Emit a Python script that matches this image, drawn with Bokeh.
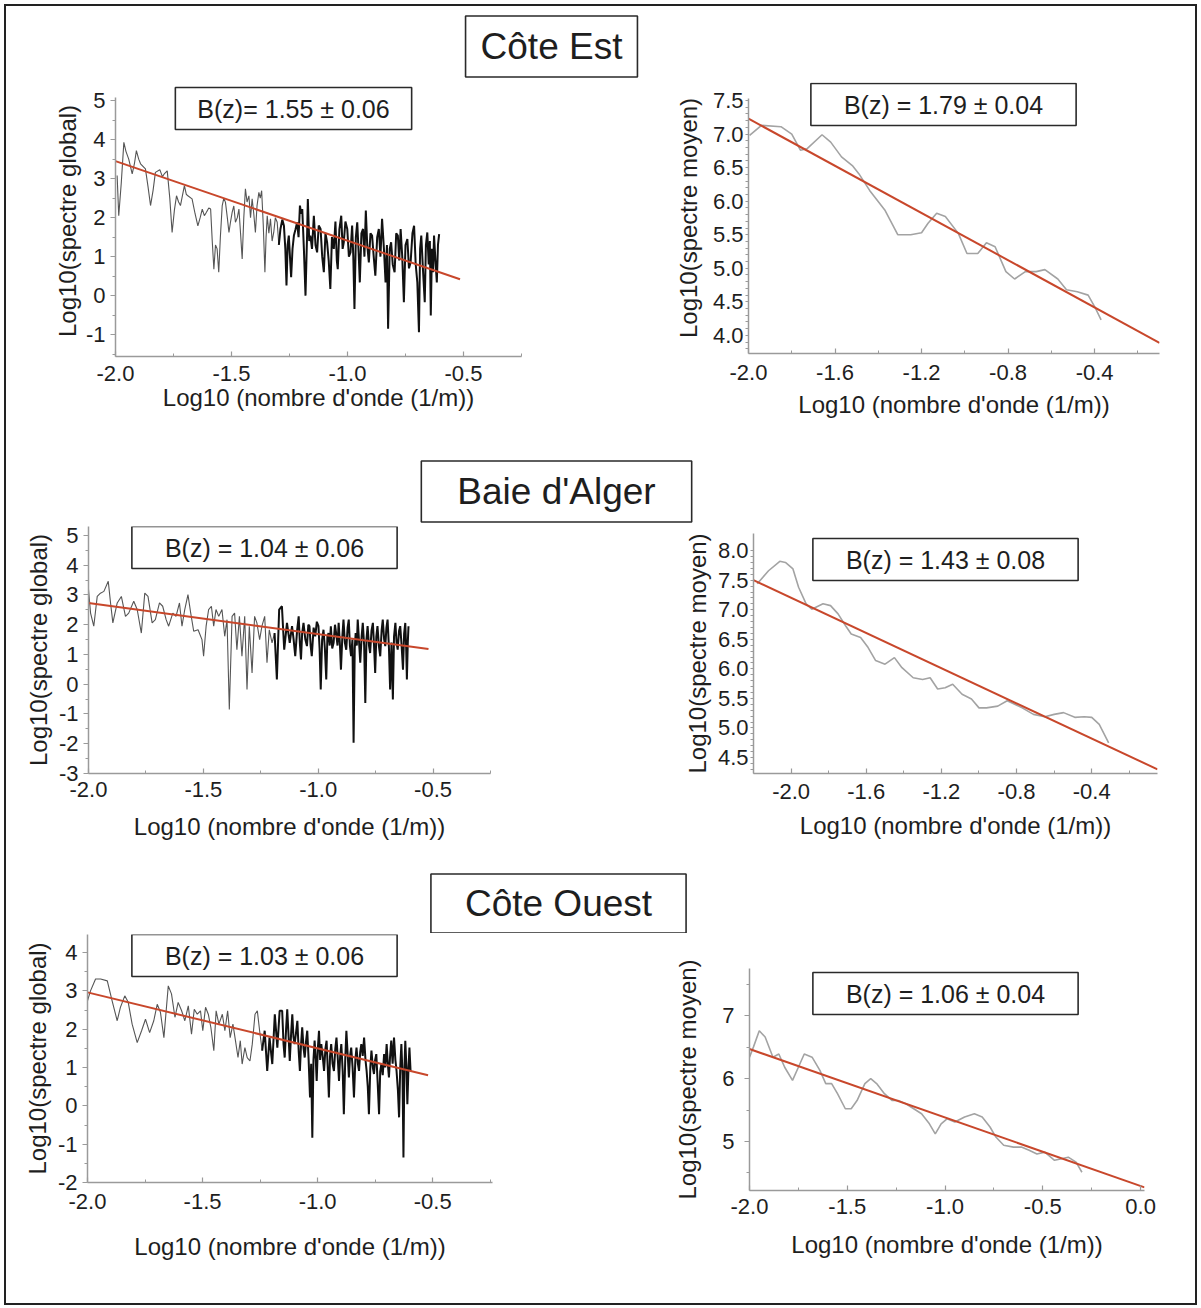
from bokeh.plotting import figure
from bokeh.models import Range1d, FixedTicker, PrintfTickFormatter, Label
from bokeh.layouts import column, row
from bokeh.embed import file_html
from bokeh.resources import INLINE

FONT = "Liberation Sans"

# ------------------------------------------------------------------ texts
titles = ["Côte Est", "Baie d'Alger", "Côte Ouest"]
b_texts = ["B(z)= 1.55 ± 0.06", "B(z) = 1.79 ± 0.04",
           "B(z) = 1.04 ± 0.06", "B(z) = 1.43 ± 0.08",
           "B(z) = 1.03 ± 0.06", "B(z) = 1.06 ± 0.04"]
x_title = "Log10 (nombre d'onde (1/m))"
y_title_global = "Log10(spectre global)"
y_title_moyen = "Log10(spectre moyen)"

# ------------------------------------------------------------------ ticks
ticks_x_half = [-2.0, -1.5, -1.0, -0.5]
minor_x_half = [-1.75, -1.25, -0.75, -0.25]
ticks_x_04 = [-2.0, -1.6, -1.2, -0.8, -0.4]
minor_x_04 = [-2.2, -1.8, -1.4, -1.0, -0.6, -0.2]
ticks_x_p6 = [-2.0, -1.5, -1.0, -0.5, 0.0]
minor_x_p6 = [-1.75, -1.25, -0.75, -0.25]
ticks_y_p1 = [-1, 0, 1, 2, 3, 4, 5]
minor_y_p1 = [-1.5, -0.5, 0.5, 1.5, 2.5, 3.5, 4.5]
ticks_y_p2 = [4.0, 4.5, 5.0, 5.5, 6.0, 6.5, 7.0, 7.5]
minor_y_p2 = [3.8, 3.9, 4.1, 4.2, 4.3, 4.4, 4.6, 4.7, 4.8, 4.9, 5.1, 5.2, 5.3, 5.4,
              5.6, 5.7, 5.8, 5.9, 6.1, 6.2, 6.3, 6.4, 6.6, 6.7, 6.8, 6.9, 7.1, 7.2, 7.3, 7.4]
ticks_y_p3 = [-3, -2, -1, 0, 1, 2, 3, 4, 5]
minor_y_p3 = [-2.5, -1.5, -0.5, 0.5, 1.5, 2.5, 3.5, 4.5]
ticks_y_p4 = [4.5, 5.0, 5.5, 6.0, 6.5, 7.0, 7.5, 8.0]
minor_y_p4 = [4.3, 4.4, 4.6, 4.7, 4.8, 4.9, 5.1, 5.2, 5.3, 5.4, 5.6, 5.7, 5.8, 5.9,
              6.1, 6.2, 6.3, 6.4, 6.6, 6.7, 6.8, 6.9, 7.1, 7.2, 7.3, 7.4, 7.6, 7.7, 7.8, 7.9]
ticks_y_p5 = [-2, -1, 0, 1, 2, 3, 4]
minor_y_p5 = [-1.5, -0.5, 0.5, 1.5, 2.5, 3.5]
ticks_y_p6 = [5, 6, 7]
minor_y_p6 = [4.5, 5.5, 6.5, 7.5]

# ------------------------------------------------------------------ data
# Côte Est - spectre global
est_global = [
    (-1.993, 3.08), (-1.986, 2.05), (-1.975, 2.90), (-1.964, 3.93), (-1.955, 3.70), (-1.943, 3.50),
    (-1.928, 3.12), (-1.918, 3.40), (-1.910, 3.72), (-1.900, 3.50), (-1.892, 3.38), (-1.871, 3.25),
    (-1.860, 2.80), (-1.849, 2.31), (-1.838, 2.70), (-1.828, 3.16), (-1.809, 3.23), (-1.798, 3.05),
    (-1.790, 3.12), (-1.777, 3.20), (-1.766, 2.50), (-1.756, 1.62), (-1.746, 2.20), (-1.737, 2.56),
    (-1.728, 2.40), (-1.720, 2.31), (-1.703, 2.82), (-1.695, 2.60), (-1.688, 2.56), (-1.670, 2.48),
    (-1.657, 2.10), (-1.645, 1.79), (-1.635, 2.00), (-1.626, 2.22), (-1.617, 2.05), (-1.608, 2.14),
    (-1.598, 2.25), (-1.590, 2.22), (-1.583, 1.40), (-1.576, 0.68), (-1.569, 1.30), (-1.562, 1.20),
    (-1.555, 0.60), (-1.548, 1.50), (-1.540, 2.31), (-1.533, 2.50), (-1.526, 2.39), (-1.518, 2.00),
    (-1.511, 1.62), (-1.504, 1.90), (-1.497, 2.14), (-1.490, 2.30), (-1.483, 1.88), (-1.475, 2.00),
    (-1.468, 2.22), (-1.461, 1.60), (-1.454, 0.94), (-1.447, 2.00), (-1.440, 2.74), (-1.433, 2.40),
    (-1.425, 2.56), (-1.418, 2.00), (-1.411, 2.48), (-1.404, 2.10), (-1.397, 1.62), (-1.390, 2.30),
    (-1.382, 2.65), (-1.376, 2.50), (-1.370, 2.69), (-1.363, 1.80), (-1.356, 0.60), (-1.351, 1.50),
    (-1.346, 2.05), (-1.339, 1.60), (-1.332, 1.97), (-1.325, 1.40), (-1.318, 1.62), (-1.311, 2.00),
    (-1.303, 1.88), (-1.296, 1.30), (-1.289, 1.71), (-1.281, 1.95), (-1.274, 1.79), (-1.268, 1.20),
    (-1.263, 0.26), (-1.258, 1.30), (-1.253, 1.54), (-1.248, 1.00), (-1.243, 0.47), (-1.237, 1.20),
    (-1.231, 1.54), (-1.224, 1.70), (-1.217, 1.88), (-1.211, 1.50), (-1.205, 2.31), (-1.200, 2.10),
    (-1.195, 2.22), (-1.188, 1.20), (-1.181, 0.00), (-1.174, 1.60), (-1.171, 2.48), (-1.165, 1.40),
    (-1.160, 1.54), (-1.153, 1.20), (-1.145, 2.05), (-1.138, 1.30), (-1.131, 1.11), (-1.124, 1.80),
    (-1.116, 1.71), (-1.109, 1.00), (-1.102, 0.60), (-1.095, 1.60), (-1.088, 1.37), (-1.081, 0.90),
    (-1.074, 0.17), (-1.067, 1.50), (-1.059, 1.20), (-1.052, 1.90), (-1.046, 0.90), (-1.042, 0.68),
    (-1.035, 1.70), (-1.027, 2.05), (-1.021, 1.20), (-1.016, 1.37), (-1.009, 1.90), (-1.001, 1.71),
    (-0.994, 1.00), (-0.987, 1.11), (-0.980, 1.80), (-0.975, 1.00), (-0.970, -0.34), (-0.964, 1.50),
    (-0.958, 1.88), (-0.952, 1.10), (-0.947, 0.34), (-0.940, 1.60), (-0.933, 1.71), (-0.927, 1.00),
    (-0.921, 2.18), (-0.915, 1.30), (-0.908, 0.85), (-0.901, 1.60), (-0.894, 1.54), (-0.887, 1.00),
    (-0.880, 0.51), (-0.872, 1.50), (-0.865, 1.71), (-0.858, 1.00), (-0.851, 1.97), (-0.843, 1.20),
    (-0.836, 0.34), (-0.830, 1.30), (-0.825, -0.85), (-0.818, 1.20), (-0.812, 1.37), (-0.805, 0.80),
    (-0.797, 0.60), (-0.790, 1.60), (-0.783, 1.54), (-0.777, 0.90), (-0.771, 1.71), (-0.764, 1.00),
    (-0.757, -0.17), (-0.750, 1.30), (-0.742, 1.45), (-0.735, 0.70), (-0.728, 0.85), (-0.720, 1.60),
    (-0.713, 1.79), (-0.706, 0.80), (-0.699, 0.34), (-0.692, -0.94), (-0.687, 1.20), (-0.682, 1.54),
    (-0.675, 0.70), (-0.667, -0.17), (-0.662, 1.30), (-0.656, 1.62), (-0.650, 0.80), (-0.645, 1.40),
    (-0.641, -0.51), (-0.636, 1.20), (-0.631, 0.60), (-0.627, 1.54), (-0.621, 0.90), (-0.615, 0.34),
    (-0.610, 1.30), (-0.605, 1.58),
]
est_fit_x = [-2.0, -0.515]
est_fit_y = [3.45, 0.42]

# Côte Est - spectre moyen
est_moyen = [
    (-1.995, 6.98), (-1.94, 7.13), (-1.85, 7.11), (-1.80, 7.00), (-1.76, 6.76), (-1.73, 6.78),
    (-1.66, 6.99), (-1.62, 6.88), (-1.57, 6.66), (-1.52, 6.53), (-1.49, 6.41), (-1.44, 6.16),
    (-1.37, 5.87), (-1.31, 5.50), (-1.25, 5.50), (-1.20, 5.53), (-1.17, 5.67), (-1.13, 5.82),
    (-1.09, 5.77), (-1.03, 5.52), (-0.99, 5.22), (-0.94, 5.22), (-0.90, 5.38), (-0.86, 5.32),
    (-0.81, 4.95), (-0.77, 4.84), (-0.72, 4.95), (-0.67, 4.95), (-0.63, 4.98), (-0.57, 4.84),
    (-0.53, 4.68), (-0.48, 4.65), (-0.43, 4.60), (-0.40, 4.43), (-0.37, 4.23),
]
est_mfit_x = [-2.0, -0.1]
est_mfit_y = [7.23, 3.89]

# Baie d'Alger - spectre global
alger_global = [
    (-2.000, 3.18), (-1.991, 2.39), (-1.977, 1.95), (-1.962, 2.95), (-1.948, 3.06), (-1.933, 3.12),
    (-1.914, 3.46), (-1.904, 2.73), (-1.894, 2.06), (-1.875, 2.73), (-1.857, 2.95), (-1.839, 2.28),
    (-1.825, 2.39), (-1.803, 2.79), (-1.788, 2.51), (-1.770, 1.72), (-1.755, 3.06), (-1.741, 2.95),
    (-1.723, 2.06), (-1.709, 2.17), (-1.691, 2.73), (-1.677, 2.62), (-1.662, 2.17), (-1.651, 1.95),
    (-1.633, 2.39), (-1.619, 2.28), (-1.604, 2.73), (-1.593, 1.95), (-1.581, 2.51), (-1.567, 3.01),
    (-1.555, 2.39), (-1.542, 1.78), (-1.523, 1.83), (-1.506, 1.50), (-1.499, 0.94), (-1.488, 1.95),
    (-1.477, 2.51), (-1.465, 2.62), (-1.455, 1.95), (-1.445, 2.51), (-1.433, 2.28), (-1.419, 2.51),
    (-1.407, 1.61), (-1.397, 2.17), (-1.387, -0.85), (-1.375, 2.28), (-1.364, 2.39), (-1.354, 1.16),
    (-1.343, 2.28), (-1.332, 0.94), (-1.320, 2.28), (-1.310, -0.18), (-1.300, 1.95), (-1.288, 0.38),
    (-1.277, 2.28), (-1.267, 2.06), (-1.255, 1.50), (-1.245, 1.95), (-1.233, 2.28), (-1.223, 0.72),
    (-1.213, 1.83), (-1.201, 1.39), (-1.190, 1.72), (-1.180, 0.16), (-1.170, 2.51), (-1.158, 2.62),
    (-1.148, 1.16), (-1.136, 2.06), (-1.124, 1.39), (-1.114, 1.95), (-1.107, 1.50), (-1.100, 0.94),
    (-1.092, 1.80), (-1.085, 2.28), (-1.080, 1.40), (-1.075, 0.83), (-1.070, 1.70), (-1.064, 2.06),
    (-1.056, 1.50), (-1.049, 1.28), (-1.043, 2.00), (-1.038, 1.95), (-1.033, 1.30), (-1.028, 0.94),
    (-1.020, 1.90), (-1.013, 1.61), (-1.006, 2.10), (-0.999, 1.95), (-0.994, 1.20), (-0.989, -0.18),
    (-0.983, 1.50), (-0.977, 1.83), (-0.971, 1.20), (-0.965, 0.16), (-0.960, 1.60), (-0.955, 1.72),
    (-0.950, 1.30), (-0.945, 1.95), (-0.939, 1.20), (-0.933, 1.39), (-0.927, 2.00), (-0.922, 1.72),
    (-0.916, 1.30), (-0.911, 2.06), (-0.906, 1.40), (-0.901, 0.49), (-0.895, 1.60), (-0.890, 2.17),
    (-0.884, 1.40), (-0.878, 1.16), (-0.872, 1.90), (-0.867, 2.17), (-0.862, 1.30), (-0.857, 0.94),
    (-0.851, 1.50), (-0.846, -1.97), (-0.841, 1.20), (-0.837, 1.72), (-0.832, 1.30), (-0.828, 2.17),
    (-0.822, 1.40), (-0.817, 0.72), (-0.811, 1.60), (-0.806, 2.06), (-0.800, 1.30), (-0.795, -0.63),
    (-0.790, 1.50), (-0.785, 1.95), (-0.779, 1.30), (-0.774, 1.05), (-0.768, 1.80), (-0.762, 2.06),
    (-0.757, 1.30), (-0.752, 0.38), (-0.747, 1.60), (-0.742, 1.95), (-0.736, 1.30), (-0.730, 0.94),
    (-0.724, 1.80), (-0.719, 2.17), (-0.713, 1.50), (-0.708, 1.28), (-0.703, 1.90), (-0.698, 2.17),
    (-0.692, 1.20), (-0.687, -0.18), (-0.681, 1.40), (-0.675, -0.51), (-0.670, 1.60), (-0.664, 2.06),
    (-0.659, 1.40), (-0.654, 1.16), (-0.648, 1.80), (-0.643, 1.95), (-0.637, 1.30), (-0.631, 0.49),
    (-0.626, 1.70), (-0.621, 2.06), (-0.617, 1.20), (-0.614, 0.16), (-0.610, 1.40), (-0.607, 1.95),
]
alger_fit_x = [-2.0, -0.52]
alger_fit_y = [2.73, 1.18]

# Baie d'Alger - spectre moyen
alger_moyen = [
    (-2.18, 7.44), (-2.12, 7.66), (-2.06, 7.82), (-2.03, 7.80), (-1.99, 7.69), (-1.96, 7.38),
    (-1.92, 7.10), (-1.89, 7.01), (-1.83, 7.10), (-1.79, 7.07), (-1.75, 6.93), (-1.71, 6.73),
    (-1.68, 6.59), (-1.63, 6.53), (-1.59, 6.36), (-1.55, 6.14), (-1.50, 6.08), (-1.45, 6.19),
    (-1.41, 6.02), (-1.35, 5.85), (-1.30, 5.82), (-1.26, 5.85), (-1.22, 5.66), (-1.18, 5.68),
    (-1.14, 5.74), (-1.09, 5.57), (-1.04, 5.49), (-1.00, 5.34), (-0.96, 5.34), (-0.90, 5.37),
    (-0.85, 5.46), (-0.81, 5.40), (-0.77, 5.34), (-0.71, 5.23), (-0.65, 5.19), (-0.60, 5.23),
    (-0.55, 5.26), (-0.49, 5.18), (-0.44, 5.19), (-0.40, 5.18), (-0.36, 5.06), (-0.31, 4.75),
]
alger_mfit_x = [-2.2, -0.05]
alger_mfit_y = [7.50, 4.30]

# Côte Ouest - spectre global
ouest_global = [
    (-2.000, 2.74), (-1.987, 3.00), (-1.965, 3.31), (-1.943, 3.31), (-1.914, 3.26), (-1.893, 2.74),
    (-1.871, 2.22), (-1.857, 2.57), (-1.838, 2.87), (-1.823, 2.70), (-1.806, 2.13), (-1.784, 1.65),
    (-1.765, 1.96), (-1.748, 2.26), (-1.730, 1.91), (-1.712, 2.22), (-1.697, 2.65), (-1.683, 2.44),
    (-1.668, 1.78), (-1.649, 3.13), (-1.635, 2.92), (-1.620, 2.31), (-1.606, 2.70), (-1.591, 2.48),
    (-1.577, 2.22), (-1.562, 2.61), (-1.548, 1.87), (-1.536, 2.52), (-1.523, 2.39), (-1.509, 2.48),
    (-1.499, 1.96), (-1.487, 2.57), (-1.475, 2.39), (-1.464, 2.05), (-1.451, 1.44), (-1.441, 2.48),
    (-1.429, 2.13), (-1.414, 2.39), (-1.403, 1.96), (-1.391, 2.48), (-1.380, 1.78), (-1.368, 2.13),
    (-1.357, 1.70), (-1.346, 1.26), (-1.336, 1.70), (-1.328, 1.09), (-1.316, 1.52), (-1.306, 1.26),
    (-1.294, 1.17), (-1.284, 1.61), (-1.272, 2.39), (-1.262, 2.48), (-1.252, 1.96), (-1.241, 1.44),
    (-1.230, 1.96), (-1.219, 0.91), (-1.209, 1.78), (-1.197, 1.09), (-1.186, 2.39), (-1.175, 1.52),
    (-1.165, 2.48), (-1.154, 2.48), (-1.148, 1.60), (-1.143, 1.26), (-1.137, 2.00), (-1.132, 2.52),
    (-1.126, 1.80), (-1.121, 1.17), (-1.115, 1.90), (-1.110, 2.39), (-1.105, 1.80), (-1.100, 1.61),
    (-1.094, 1.90), (-1.088, 2.22), (-1.082, 1.40), (-1.077, 0.91), (-1.072, 1.60), (-1.067, 2.05),
    (-1.061, 1.50), (-1.056, 1.26), (-1.050, 1.70), (-1.045, 1.96), (-1.039, 1.20), (-1.033, 0.22),
    (-1.028, 1.10), (-1.023, -0.83), (-1.018, 1.20), (-1.013, 1.70), (-1.008, 1.20), (-1.004, 0.65),
    (-0.999, 1.50), (-0.994, 1.96), (-0.989, 1.20), (-0.984, 1.61), (-0.978, 1.30), (-0.972, 0.91),
    (-0.966, 1.50), (-0.961, 1.70), (-0.956, 1.00), (-0.951, 0.22), (-0.946, 1.30), (-0.941, 1.61),
    (-0.935, 1.10), (-0.929, 0.91), (-0.923, 1.50), (-0.918, 1.78), (-0.912, 1.20), (-0.907, 0.65),
    (-0.902, 1.30), (-0.897, 1.61), (-0.891, 0.90), (-0.886, -0.22), (-0.880, 1.20), (-0.875, 1.96),
    (-0.869, 1.30), (-0.864, 0.74), (-0.859, 1.30), (-0.854, 1.52), (-0.848, 1.00), (-0.842, 0.22),
    (-0.836, 1.20), (-0.831, 1.52), (-0.825, 1.10), (-0.820, 0.91), (-0.815, 1.40), (-0.810, 1.61),
    (-0.804, 1.30), (-0.798, 1.78), (-0.792, 1.20), (-0.787, 0.91), (-0.782, 0.50), (-0.777, -0.22),
    (-0.771, 1.00), (-0.766, 1.44), (-0.760, 1.00), (-0.755, 0.83), (-0.750, 1.20), (-0.745, 1.35),
    (-0.739, 0.60), (-0.733, -0.22), (-0.728, 0.90), (-0.723, 1.09), (-0.717, 0.80), (-0.711, 1.35),
    (-0.706, 1.00), (-0.700, 1.61), (-0.695, 1.10), (-0.690, 0.74), (-0.685, 1.30), (-0.680, 1.70),
    (-0.674, 1.10), (-0.668, 1.78), (-0.662, 1.20), (-0.657, 0.91), (-0.651, 0.40), (-0.646, -0.30),
    (-0.641, 1.00), (-0.636, 1.61), (-0.631, 0.80), (-0.627, -1.35), (-0.623, 0.90), (-0.619, 1.70),
    (-0.614, 1.00), (-0.610, 0.04), (-0.605, 1.00), (-0.601, 1.52), (-0.596, 0.91),
]
ouest_fit_x = [-2.0, -0.52]
ouest_fit_y = [2.96, 0.80]

# Côte Ouest - spectre moyen
ouest_moyen = [
    (-2.00, 6.34), (-1.98, 6.50), (-1.95, 6.76), (-1.92, 6.66), (-1.88, 6.34), (-1.85, 6.39),
    (-1.82, 6.18), (-1.78, 5.97), (-1.75, 6.18), (-1.72, 6.39), (-1.68, 6.34), (-1.64, 6.13),
    (-1.61, 5.92), (-1.58, 5.92), (-1.55, 5.76), (-1.51, 5.52), (-1.48, 5.52), (-1.45, 5.65),
    (-1.41, 5.92), (-1.38, 6.00), (-1.35, 5.92), (-1.31, 5.76), (-1.27, 5.65), (-1.24, 5.65),
    (-1.20, 5.60), (-1.16, 5.52), (-1.12, 5.44), (-1.08, 5.28), (-1.05, 5.12), (-1.02, 5.28),
    (-0.99, 5.36), (-0.95, 5.31), (-0.90, 5.39), (-0.85, 5.44), (-0.81, 5.39), (-0.77, 5.23),
    (-0.74, 5.07), (-0.70, 4.94), (-0.65, 4.91), (-0.61, 4.91), (-0.57, 4.86), (-0.53, 4.80),
    (-0.49, 4.83), (-0.44, 4.70), (-0.41, 4.72), (-0.37, 4.75), (-0.33, 4.67), (-0.30, 4.51),
]
ouest_mfit_x = [-2.0, 0.02]
ouest_mfit_y = [6.47, 4.27]

# ------------------------------------------------------------------ styling
SPARSE_COLOR = "#555555"     # low wavenumbers: few samples, grey trace
DENSE_COLOR = "#111111"      # high wavenumbers: densely sampled, black trace
MOYEN_COLOR = "#a3a3a3"
FIT_COLOR = "#c8472b"
AXIS_COLOR = "#9a9a9a"
TEXT_COLOR = "#1e1e1e"
BOX_COLOR = "#2a2a2a"
LEFT_W = 640
RIGHT_W = 549
TOTAL_W = LEFT_W + RIGHT_W


def panel(w, h, geom, xt, xm, yt, ym, yfmt, ylabel, ystand, ylab_stand, xstand, xlab_stand,
          ytick_out=5, ytick_in=0, frame_top=None):
    """geom = axis box (left, top, width, height in figure pixels) and its data ranges.
    The frame may start higher (frame_top) so that boxed labels fit; the y axis line is
    then limited to the axis box with bounds."""
    fl, ft, fw, fh, xr, yr = geom
    if frame_top is None:
        frame_top = ft
    y_top = yr[0] + (ft + fh - frame_top) * (yr[1] - yr[0]) / fh
    p = figure(width=w, height=h, x_range=Range1d(*xr), y_range=Range1d(yr[0], y_top),
               output_backend="svg", toolbar_location=None, tools="",
               min_border_left=fl, min_border_top=frame_top,
               min_border_right=w - fl - fw, min_border_bottom=h - ft - fh,
               background_fill_color="white", border_fill_color="white",
               outline_line_color=None)
    p.grid.visible = False
    for ax in (p.xaxis[0], p.yaxis[0]):
        ax.axis_line_color = AXIS_COLOR
        ax.axis_line_width = 1.5
        ax.major_tick_line_color = AXIS_COLOR
        ax.minor_tick_line_color = AXIS_COLOR
        ax.major_tick_line_width = 1.2
        ax.minor_tick_line_width = 1
        ax.major_label_text_font = FONT
        ax.major_label_text_font_size = "22px"
        ax.major_label_text_color = TEXT_COLOR
        ax.axis_label_text_font = FONT
        ax.axis_label_text_font_size = "24px"
        ax.axis_label_text_font_style = "normal"
        ax.axis_label_text_color = TEXT_COLOR
    xa, ya = p.xaxis[0], p.yaxis[0]
    xa.ticker = FixedTicker(ticks=xt, minor_ticks=xm)
    xa.formatter = PrintfTickFormatter(format="%.1f")
    xa.major_tick_in, xa.major_tick_out = 5, 0
    xa.minor_tick_in, xa.minor_tick_out = 3, 0
    xa.major_label_standoff = xstand
    xa.axis_label = x_title
    xa.axis_label_standoff = xlab_stand
    ya.bounds = yr
    ya.ticker = FixedTicker(ticks=yt, minor_ticks=ym)
    ya.formatter = PrintfTickFormatter(format=yfmt)
    ya.major_tick_in, ya.major_tick_out = ytick_in, ytick_out
    ya.minor_tick_in, ya.minor_tick_out = 0, 3
    ya.major_label_standoff = ystand
    ya.axis_label = ylabel
    ya.axis_label_standoff = ylab_stand
    return p


def boxed_label(p, geom, cx, cy, text, size, padx, pady):
    # (cx, cy): centre in figure pixels from the top-left corner; screen units are
    # measured from the frame's bottom-left corner.
    fl, ft, fw, fh, xr, yr = geom
    p.add_layout(Label(x=cx - fl, y=(ft + fh) - cy, x_units="screen", y_units="screen",
                       text=text, text_align="center", text_baseline="middle",
                       text_font=FONT, text_font_size=size, text_color=TEXT_COLOR,
                       border_line_color=BOX_COLOR, border_line_width=1.6,
                       background_fill_color="white",
                       padding=dict(left=padx, right=padx, top=pady, bottom=pady)))


def strip(h, title, cx, cy, padx, pady):
    s = figure(width=TOTAL_W, height=h, x_range=Range1d(0, TOTAL_W), y_range=Range1d(h, 0),
               output_backend="svg", toolbar_location=None, tools="",
               min_border=0, background_fill_color="white", border_fill_color="white",
               outline_line_color=None)
    s.axis.visible = False
    s.grid.visible = False
    s.add_layout(Label(x=cx, y=cy, text=title, text_align="center", text_baseline="middle",
                       text_font=FONT, text_font_size="37px", text_color=TEXT_COLOR,
                       border_line_color=BOX_COLOR, border_line_width=1.6,
                       background_fill_color="white",
                       padding=dict(left=padx, right=padx, top=pady, bottom=pady)))
    return s


def draw_global(p, series, fit_x, fit_y, split):
    xs = [a for a, _ in series]
    ys = [b for _, b in series]
    k = next(i for i, v in enumerate(xs) if v >= split)
    p.line(xs[:k + 1], ys[:k + 1], line_color=SPARSE_COLOR, line_width=1.1)
    p.line(xs[k:], ys[k:], line_color=DENSE_COLOR, line_width=2.0)
    p.line(fit_x, fit_y, line_color=FIT_COLOR, line_width=2)


def draw_moyen(p, series, fit_x, fit_y):
    xs = [a for a, _ in series]
    ys = [b for _, b in series]
    p.line(xs, ys, line_color=MOYEN_COLOR, line_width=1.6)
    p.line(fit_x, fit_y, line_color=FIT_COLOR, line_width=2)


# ---------------- row 1
s1 = strip(74, titles[0], 545, 40, 15, 10)
g1 = (109, 17, 406, 259, (-2.0, -0.25), (-1.56, 5.08))
p1 = panel(LEFT_W, 366, g1, ticks_x_half, minor_x_half, ticks_y_p1, minor_y_p1, "%d",
           y_title_global, 5, 2, 9, 0, frame_top=5)
draw_global(p1, est_global, est_fit_x, est_fit_y, -1.30)
boxed_label(p1, g1, 287, 28, b_texts[0], "25px", 22, 7)

g2 = (102, 18, 411, 255, (-2.0, -0.1), (3.73, 7.53))
p2 = panel(RIGHT_W, 366, g2, ticks_x_04, minor_x_04, ticks_y_p2, minor_y_p2, "%.1f",
           y_title_moyen, 2, 8, 11, 8, ytick_out=3, ytick_in=0, frame_top=2)
draw_moyen(p2, est_moyen, est_mfit_x, est_mfit_y)
boxed_label(p2, g2, 297, 24, b_texts[1], "25px", 33, 7)

# ---------------- row 2
s2 = strip(78, titles[1], 550, 45, 36, 10)
g3 = (82, 2, 402, 247, (-2.0, -0.25), (-3.0, 5.30))
p3 = panel(LEFT_W, 332, g3, ticks_x_half, minor_x_half, ticks_y_p3, minor_y_p3, "%d",
           y_title_global, 5, 4, 8, 13)
draw_global(p3, alger_global, alger_fit_x, alger_fit_y, -1.20)
boxed_label(p3, g3, 258, 23, b_texts[2], "25px", 33, 7)

g4 = (107, 9, 404, 240, (-2.2, -0.05), (4.23, 8.29))
p4 = panel(RIGHT_W, 332, g4, ticks_x_04, minor_x_04, ticks_y_p4, minor_y_p4, "%.1f",
           y_title_moyen, 2, 4, 10, 10, ytick_out=3, ytick_in=0)
draw_moyen(p4, alger_moyen, alger_mfit_x, alger_mfit_y)
boxed_label(p4, g4, 299, 35, b_texts[3], "25px", 33, 7)

# ---------------- row 3
s3 = strip(77, titles[2], 552, 47, 34, 9)
g5 = (81, 1, 405, 248, (-2.0, -0.24), (-2.0, 4.47))
p5 = panel(LEFT_W, 370, g5, ticks_x_half, minor_x_half, ticks_y_p5, minor_y_p5, "%d",
           y_title_global, 5, 4, 11, 21)
draw_global(p5, ouest_global, ouest_fit_x, ouest_fit_y, -1.25)
boxed_label(p5, g5, 258, 22, b_texts[4], "25px", 33, 7)

g6 = (103, 35, 395, 222, (-2.0, 0.02), (4.22, 7.75))
p6 = panel(RIGHT_W, 370, g6, ticks_x_p6, minor_x_p6, ticks_y_p6, minor_y_p6, "%d",
           y_title_moyen, 10, 18, 8, 14)
draw_moyen(p6, ouest_moyen, ouest_mfit_x, ouest_mfit_y)
boxed_label(p6, g6, 299, 60, b_texts[5], "25px", 33, 7)

page = column(s1, row(column(p1), column(p2)), s2, row(column(p3), column(p4)), s3,
              row(column(p5), column(p6)),
              styles={"border": "2px solid #222222", "background-color": "white",
                      "margin": "4px 0 0 4px"})

open("out.html", "w").write(file_html(page, INLINE))
